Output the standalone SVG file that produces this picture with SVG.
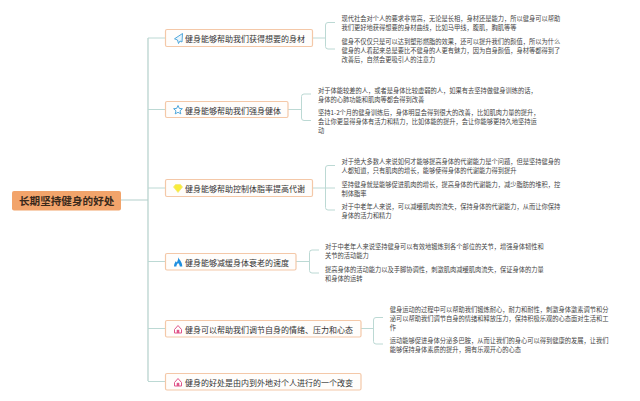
<svg xmlns="http://www.w3.org/2000/svg" width="640" height="401" viewBox="0 0 640 401">
<style>
text{font-family:"Noto Sans CJK SC","Liberation Sans",sans-serif}
.t{font-size:8px;fill:#333333;dominant-baseline:central}
.d{font-size:6.25px;fill:#444444;dominant-baseline:central}
.n{fill:#fffdfb;stroke:#f4c8a8;stroke-width:1.2}
.c{fill:none;stroke:#bcd9d4;stroke-width:1}
.tr{fill:none;stroke:#b4d0cb;stroke-width:1.2}
</style>
<rect width="640" height="401" fill="#ffffff"/>
<g id="connectors">
<path class="tr" d="M121 200H148M148 38V381"/>
<path class="c" d="M148 38H166M148 109.500H166M148 188H166M148 261.500H166M148 328.500H166M148 381.500H166"/>
<path class="c" d="M312 38H325.500M335 22.500H328a2.500 2.500 0 0 0-2.500 2.500V46.500a2.500 2.500 0 0 0 2.500 2.500H335"/>
<path class="c" d="M288 109.500H301.500M311 94H304a2.500 2.500 0 0 0-2.500 2.500V118a2.500 2.500 0 0 0 2.500 2.500H311"/>
<path class="c" d="M312 188H335M335 165.500H328a2.500 2.500 0 0 0-2.500 2.500V207.500a2.500 2.500 0 0 0 2.500 2.500H335"/>
<path class="c" d="M296 261.500H309.500M319 250H312a2.500 2.500 0 0 0-2.500 2.500V270.500a2.500 2.500 0 0 0 2.500 2.500H319"/>
<path class="c" d="M361 328.500H373.500M383 317.500H376a2.500 2.500 0 0 0-2.500 2.500V341.500a2.500 2.500 0 0 0 2.500 2.500H383"/>
</g>
<g id="root">
<rect x="12" y="191" width="109" height="19.500" rx="2" fill="#f2a46b"/>
<text x="19" y="200.500" font-size="10.600" font-weight="700" fill="#3a2a1c" dominant-baseline="central">长期坚持健身的好处</text>
</g>
<g id="node1">
<rect class="n" x="165.500" y="29.500" width="147" height="17" rx="1.500"/>
<path d="M182.500 33.500L174.500 38.800L177.500 40L178.500 43.500L180 41L182 42Z" fill="#e8f4fb" stroke="#3f9fd8" stroke-width="0.900" stroke-linejoin="round"/>
<text class="t" x="185" y="38.500">健身能够帮助我们获得想要的身材</text>
<text class="d" x="341.500" y="18">现代社会对个人的要求非常高，无论是长相，身材还是能力，所以健身可以帮助</text>
<text class="d" x="341.500" y="27">我们更好地获得想要的身材曲线，比如马甲线，腹肌，胸肌等等</text>
<text class="d" x="341.500" y="41">健身不仅仅只是可以达到塑形燃脂的效果，还可以提升我们的颜值，所以为什么</text>
<text class="d" x="341.500" y="50">健身的人看起来总是要比不健身的人更有魅力，因为自身颜值，身材等都得到了</text>
<text class="d" x="341.500" y="59">改善后，自然会更吸引人的注意力</text>
</g>
<g id="node2">
<rect class="n" x="165.500" y="101.500" width="122.500" height="16" rx="1.500"/>
<path d="M178 105.500L179.300 108.400L182.400 108.700L180 110.800L180.800 113.900L178 112.300L175.200 113.900L176 110.800L173.600 108.700L176.700 108.400Z" fill="#fff" stroke="#3f9fd8" stroke-width="0.900" stroke-linejoin="round"/>
<text class="t" x="185" y="110">健身能够帮助我们强身健体</text>
<text class="d" x="318" y="90">对于体能较差的人，或者是身体比较虚弱的人，如果有去坚持做健身训练的话，</text>
<text class="d" x="318" y="99">身体的心肺功能和肌肉等都会得到改善</text>
<text class="d" x="318" y="112">坚持1-2个月的健身训练后，身体明显会得到很大的改善，比如肌肉力量的提升，</text>
<text class="d" x="318" y="121">会让你更显得身体有活力和精力，比如体能的提升，会让你能够更持久地坚持运</text>
<text class="d" x="318" y="130">动</text>
</g>
<g id="node3">
<rect class="n" x="165.500" y="179.500" width="147" height="17" rx="1.500"/>
<path d="M175.500 184.500H180.500L182.500 187L178 192.500L173.500 187Z" fill="#f8ec3a" stroke="#f3e87a" stroke-width="0.800" stroke-linejoin="round"/>
<text class="t" x="185" y="188.500">健身能够帮助控制体脂率提高代谢</text>
<text class="d" x="341.500" y="161.500">对于绝大多数人来说如何才能够提高身体的代谢能力是个问题，但是坚持健身的</text>
<text class="d" x="341.500" y="170.500">人都知道，只有肌肉的增长，能够使得身体的代谢能力得到提升</text>
<text class="d" x="341.500" y="184">坚持健身就是能够促进肌肉的增长，提高身体的代谢能力，减少脂肪的堆积，控</text>
<text class="d" x="341.500" y="193">制体脂率</text>
<text class="d" x="341.500" y="206">对于中老年人来说，可以减缓肌肉的流失，保持身体的代谢能力，从而让你保持</text>
<text class="d" x="341.500" y="215">身体的活力和精力</text>
</g>
<g id="node4">
<rect class="n" x="165.500" y="253.500" width="130.500" height="16.500" rx="1.500"/>
<path d="M178.300 257.200C178.800 259.500 182.300 261.200 182.300 266.500H179.800C179.800 265 179 264 178.100 263C177.200 264 176.400 265 176.400 266.500H174C174 264 175 262.800 175.600 261.200C176.200 261.500 176.600 262 176.800 262.400C177.600 261 178.300 259.200 178.300 257.200Z" fill="#1f8fe0"/>
<text class="t" x="185" y="262">健身能够减缓身体衰老的速度</text>
<text class="d" x="325" y="246.500">对于中老年人来说坚持健身可以有效地锻炼到各个部位的关节，增强身体韧性和</text>
<text class="d" x="325" y="255.500">关节的活动能力</text>
<text class="d" x="325" y="269">提高身体的活动能力以及手脚协调性，刺激肌肉减缓肌肉流失，保证身体的力量</text>
<text class="d" x="325" y="278">和身体的运转</text>
</g>
<g id="node5">
<rect class="n" x="165.500" y="320.500" width="195.500" height="16.500" rx="1.500"/>
<path d="M174.500 329.500L178 325.500L181.500 329.500V333H174.500Z" fill="#fff" stroke="#e0558a" stroke-width="1" stroke-linejoin="round"/>
<rect x="176.700" y="329.800" width="2.600" height="3.200" fill="#e0558a"/>
<text class="t" x="185" y="329.500">健身可以帮助我们调节自身的情绪、压力和心态</text>
<text class="d" x="389.700" y="309">健身运动的过程中可以帮助我们锻炼耐心，耐力和耐性，刺激身体激素调节和分</text>
<text class="d" x="389.700" y="318">泌可以帮助我们调节自身的情绪和释放压力，保持积极乐观的心态面对生活和工</text>
<text class="d" x="389.700" y="327">作</text>
<text class="d" x="389.700" y="340.500">运动能够促进身体分泌多巴胺，从而让我们的身心可以得到健康的发展，让我们</text>
<text class="d" x="389.700" y="349.500">能够保持身体素质的提升，拥有乐观开心的心态</text>
</g>
<g id="node6">
<rect class="n" x="165.500" y="373.500" width="195.500" height="16.500" rx="1.500"/>
<path d="M174.500 382.500L178 378.500L181.500 382.500V386H174.500Z" fill="#fff" stroke="#e0558a" stroke-width="1" stroke-linejoin="round"/>
<rect x="176.700" y="382.800" width="2.600" height="3.200" fill="#e0558a"/>
<text class="t" x="185" y="382.500">健身的好处是由内到外地对个人进行的一个改变</text>
</g>
</svg>
